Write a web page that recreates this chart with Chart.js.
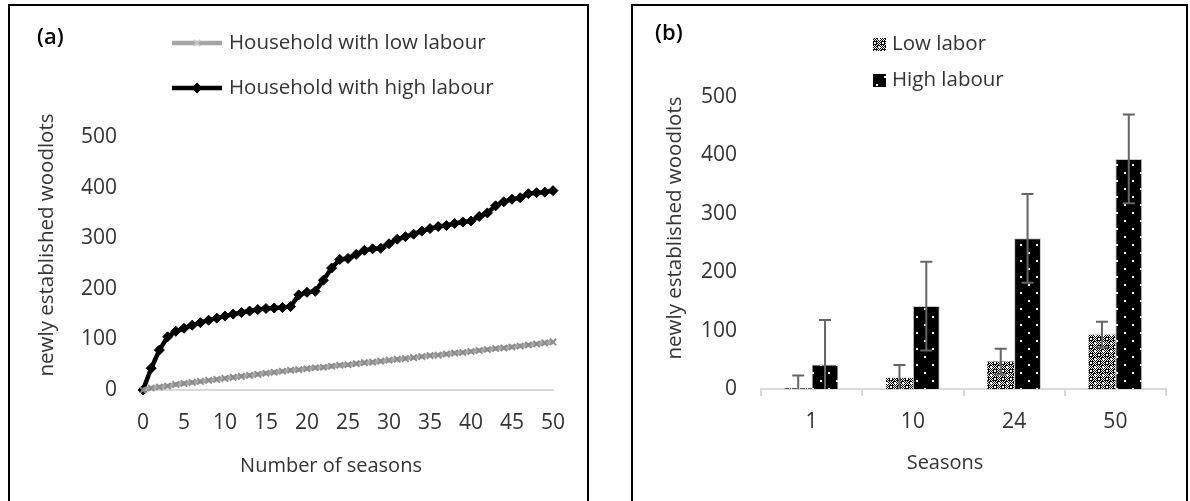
<!DOCTYPE html>
<html><head><meta charset="utf-8">
<script src="https://cdn.jsdelivr.net/npm/chart.js@4.4.0/dist/chart.umd.min.js"></script>
<style>
body{margin:0;background:#fff;width:1190px;height:501px;overflow:hidden;position:relative;}
canvas{position:absolute;top:0;}
#a{left:0}
#b{left:600px}
.box{position:absolute;border:2px solid #000;box-sizing:border-box;pointer-events:none}
</style></head><body>
<canvas id="a" width="600" height="501"></canvas>
<canvas id="b" width="590" height="501"></canvas>
<div class="box" style="left:8px;top:4px;width:581px;height:520px"></div>
<div class="box" style="left:631px;top:4px;width:557px;height:520px"></div>
<script>
// panel (a): woodlots per season
const seasons = [0,1,2,3,4,5,6,7,8,9,10,11,12,13,14,15,16,17,18,19,20,21,22,23,24,25,
  26,27,28,29,30,31,32,33,34,35,36,37,38,39,40,41,42,43,44,45,46,47,48,49,50];
const lowLabour = [0,4,6,8,11,13,15,17,19,21,23,25,27,29,31,33,35,37,39,40,42,44,45,47,49,50,
  52,54,55,57,59,61,62,64,66,68,69,71,73,74,76,78,80,82,83,85,87,89,91,93,95];
const highLabour = [0,43,79,105,116,122,128,133,138,142,146,150,153,156,159,161,162,163,165,188,193,195,217,241,258,260,
  268,276,279,280,289,298,303,308,314,319,323,325,329,332,334,343,350,364,372,377,380,388,390,391,394];

// panel (b): selected seasons with error bars
const barSeasons = ['1','10','24','50'];
const lowBar = [1,19,47,93];
const lowErr = [22,22,22,22];
const highBar = [42,142,258,394];
const highErr = [76,76,76,76];

const FONT = '"Open Sans", sans-serif';
const TXT = '#333';

function pat(size, draw){
  const c = document.createElement('canvas');
  c.width = size; c.height = size;
  const g = c.getContext('2d');
  draw(g);
  return document.getElementById('b').getContext('2d').createPattern(c, 'repeat');
}
const checker = pat(8, g=>{
  g.fillStyle='#fff'; g.fillRect(0,0,8,8);
  g.fillStyle='#000';
  for(let i=0;i<8;i++) for(let j=0;j<8;j++) if((i+j)%2==0) g.fillRect(i,j,1,1);
  [[2,2],[6,6]].forEach(([x,y])=>{
    g.fillStyle='#000'; g.fillRect(x-1,y-1,4,4);
    g.fillStyle='#fff'; g.fillRect(x,y,2,2);
  });
});
const dotted = pat(16, g=>{
  g.fillStyle='#000'; g.fillRect(0,0,16,16);
  g.fillStyle='#fff';
  g.fillRect(4,4,2,2); g.fillRect(12,12,2,2);
});

// free text: panel letters, axis titles, legends
const texts = {
  id:'texts',
  afterDraw(chart, args, o){
    const ctx = chart.ctx;
    (o.items||[]).forEach(t=>{
      ctx.save();
      ctx.font = t.font; ctx.fillStyle = t.color || TXT;
      ctx.textAlign = t.align || 'left'; ctx.textBaseline = 'middle';
      ctx.translate(t.x, t.y);
      if(t.rot) ctx.rotate(t.rot);
      ctx.fillText(t.text, 0, 0);
      ctx.restore();
    });
    (o.legend||[]).forEach(l=>{
      const ds = chart.data.datasets[l.ds];
      ctx.save();
      if(l.type==='line'){
        ctx.strokeStyle = ds.borderColor; ctx.lineWidth = ds.borderWidth;
        ctx.beginPath(); ctx.moveTo(l.x, l.y); ctx.lineTo(l.x+50, l.y); ctx.stroke();
        ctx.fillStyle = ds.pointBackgroundColor; ctx.strokeStyle = l.mark || ds.pointBorderColor;
        ctx.lineWidth = ds.pointBorderWidth;
        Chart.helpers.drawPoint(ctx, {pointStyle: ds.pointStyle, radius: ds.pointRadius, borderWidth: ds.pointBorderWidth, rotation:0}, l.x+25, l.y);
        ctx.fillStyle = TXT; ctx.font = l.font; ctx.textBaseline='middle';
        ctx.fillText(ds.label, l.x+57, l.y);
      } else {
        ctx.fillStyle = ds.backgroundColor; ctx.fillRect(l.x, l.y-6, 13, 13);
        ctx.fillStyle = TXT; ctx.font = l.font; ctx.textBaseline='middle';
        ctx.fillText(ds.label, l.x+19, l.y);
      }
      ctx.restore();
    });
  }
};

const errorBars = {
  id:'errorBars',
  afterDatasetsDraw(chart){
    const ctx = chart.ctx, y = chart.scales.y, a = chart.chartArea;
    ctx.save();
    ctx.beginPath(); ctx.rect(a.left, 0, a.right-a.left, a.bottom); ctx.clip();
    ctx.strokeStyle = '#656565'; ctx.lineWidth = 2;
    chart.data.datasets.forEach((ds, di)=>{
      chart.getDatasetMeta(di).data.forEach((bar, i)=>{
        const top = y.getPixelForValue(ds.data[i] + ds.errors[i]);
        const bot = y.getPixelForValue(ds.data[i] - ds.errors[i]);
        ctx.beginPath();
        ctx.moveTo(bar.x, top); ctx.lineTo(bar.x, bot);
        ctx.moveTo(bar.x-6, top); ctx.lineTo(bar.x+6, top);
        ctx.moveTo(bar.x-6, bot); ctx.lineTo(bar.x+6, bot);
        ctx.stroke();
      });
    });
    ctx.restore();
  }
};

const tickFont = {family: FONT, size: 21};

new Chart(document.getElementById('a'), {
  type:'line',
  data:{
    datasets:[
      {label:'Household with low labour', data: seasons.map((s,i)=>({x:s, y:lowLabour[i]})),
       borderColor:'#a6a6a6', borderWidth:4.5, pointStyle:'crossRot', pointRadius:4.5,
       pointBorderColor:'#8a8a8a', pointBackgroundColor:'#8a8a8a', pointBorderWidth:1.8, clip:false},
      {label:'Household with high labour', data: seasons.map((s,i)=>({x:s, y:highLabour[i]})),
       borderColor:'#000', borderWidth:4.5, pointStyle:'rectRot', pointRadius:5,
       pointBorderColor:'#000', pointBackgroundColor:'#000', pointBorderWidth:1, clip:false}
    ]
  },
  options:{
    responsive:false, animation:false,
    layout:{padding:{left:0, right:47, top:137, bottom:51}},
    scales:{
      x:{type:'linear', min:0, max:50,
         ticks:{stepSize:5, font:tickFont, color:TXT, padding:20},
         grid:{display:false, drawTicks:false},
         border:{display:true, color:'#d9d9d9', width:2},
         afterFit:s=>{s.height=60;}},
      y:{min:0, max:500,
         ticks:{stepSize:100, font:tickFont, color:TXT, padding:26},
         grid:{display:false, drawTicks:false},
         border:{display:false},
         afterFit:s=>{s.width=143;}}
    },
    plugins:{
      legend:{display:false}, tooltip:{enabled:false},
      texts:{
        items:[
          {text:'(a)', x:37, y:38, font:'600 22px '+FONT, color:'#000'},
          {text:'newly established woodlots', x:47, y:245, rot:-Math.PI/2, align:'center', font:'20.5px '+FONT},
          {text:'Number of seasons', x:331, y:466, align:'center', font:'20px '+FONT}
        ],
        legend:[
          {ds:0, type:'line', x:172, y:43, font:'20.5px '+FONT, mark:'#c8c8c8'},
          {ds:1, type:'line', x:172, y:88, font:'20.5px '+FONT}
        ]
      }
    }
  },
  plugins:[texts]
});

new Chart(document.getElementById('b'), {
  type:'bar',
  data:{
    labels: barSeasons,
    datasets:[
      {label:'Low labor', data: lowBar, errors: lowErr, backgroundColor: checker, borderWidth:0},
      {label:'High labour', data: highBar, errors: highErr, backgroundColor: dotted, borderColor:'#c8c8c8', borderWidth:1}
    ]
  },
  options:{
    responsive:false, animation:false,
    categoryPercentage:0.53, barPercentage:1,
    layout:{padding:{left:0, right:24, top:97, bottom:51}},
    scales:{
      x:{ticks:{font:tickFont, color:TXT, padding:13},
         grid:{display:true, drawOnChartArea:false, drawTicks:true, tickLength:7, color:'#d9d9d9', lineWidth:2},
         border:{display:true, color:'#d9d9d9', width:2},
         afterFit:s=>{s.height=61;}},
      y:{min:0, max:500,
         ticks:{stepSize:100, font:tickFont, color:TXT, padding:24},
         grid:{display:false, drawTicks:false},
         border:{display:false},
         afterFit:s=>{s.width=161;}}
    },
    plugins:{
      legend:{display:false}, tooltip:{enabled:false},
      texts:{
        items:[
          {text:'(b)', x:55, y:34, font:'600 22px '+FONT, color:'#000'},
          {text:'newly established woodlots', x:75, y:228, rot:-Math.PI/2, align:'center', font:'20.5px '+FONT},
          {text:'Seasons', x:345, y:463, align:'center', font:'20px '+FONT}
        ],
        legend:[
          {ds:0, type:'box', x:273, y:44, font:'20.5px '+FONT},
          {ds:1, type:'box', x:273, y:80, font:'20.5px '+FONT}
        ]
      }
    }
  },
  plugins:[errorBars, texts]
});
</script>
</body></html>
